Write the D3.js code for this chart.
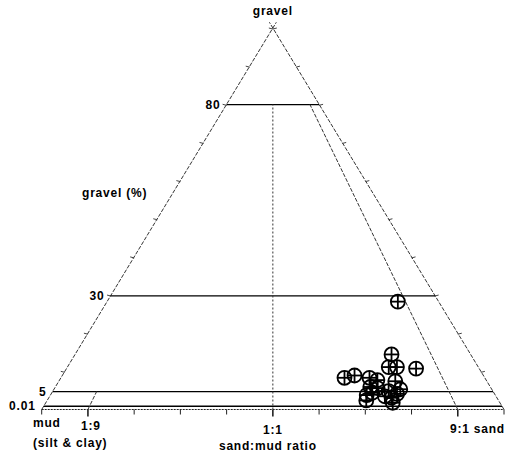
<!DOCTYPE html>
<html>
<head>
<meta charset="utf-8">
<script src="https://cdn.jsdelivr.net/npm/d3@7"></script>
<style>
  html, body { margin: 0; padding: 0; background: #fff; }
  svg text { font-family: "Liberation Sans", Arial, sans-serif; font-weight: bold; font-size: 12px; fill: #000; letter-spacing: 0.8px; }
</style>
</head>
<body>
<svg id="chart" width="507" height="457"></svg>
<script>
// Folk (1954) gravel–sand–mud diagram: gravel % vs sand:mud ratio
// Sample values: gravel percentage and sand fraction of the sand+mud part
const gravelPct = [28.5, 14.7, 11.4, 11.4, 11.0, 8.6, 9.2, 8.6, 6.2, 3.8, 2.0, 5.9, 7.7, 5.6, 5.1, 2.9, 1.2, 3.4, 4.6, 8.0, 4.2];
const sandRatio = [0.877, 0.800, 0.782, 0.802, 0.847, 0.669, 0.694, 0.728, 0.724, 0.711, 0.707, 0.740, 0.786, 0.791, 0.763, 0.765, 0.764, 0.751, 0.725, 0.745, 0.780];

// Class boundaries
const gravelLevels = [80, 30, 5, 0.01];
const gravelLevelLabels = ["80", "30", "5", "0.01"];
const ratioLines = [
  { r: 0.1, label: "1:9", top: 5 },
  { r: 0.5, label: "1:1", top: 80 },
  { r: 0.9, label: "9:1 sand", top: 80 }
];
const sideTicks = d3.range(10, 101, 10);
const baseTicks = d3.range(0, 1.0001, 0.1);

const svg = d3.select("#chart");

// Scales: gravel (vertical, stretched near zero so "trace" is visible),
// base position along the sand:mud axis, and height of the triangle
const gScale = d3.scaleLinear().domain([0, 0.01, 5, 100]).range([0, 0.0085, 0.047, 1]);
const yScale = d3.scaleLinear().domain([0, 1]).range([409.5, 28]);
const xBase = d3.scaleLinear().domain([0, 1]).range([41.7, 504]);
const apexX = (xBase(0) + xBase(1)) / 2;

// Position of a point with gravel g (%) and sand fraction r
function px(g, r) {
  const f = gScale(g);
  return apexX + (xBase(r) - apexX) * (1 - f);
}
function py(g) { return yScale(gScale(g)); }

const line = (x1, y1, x2, y2) => svg.append("line")
  .attr("x1", x1).attr("y1", y1).attr("x2", x2).attr("y2", y2);

// Triangle sides (dashed), crossing slightly past the apex
const apexY = py(100);
line(xBase(0), py(0), apexX + (apexX - xBase(0)) * 0.015, apexY - (py(0) - apexY) * 0.015)
  .attr("stroke", "#333").attr("stroke-width", 1).attr("stroke-dasharray", "4,1.5");
line(xBase(1), py(0), apexX - (xBase(1) - apexX) * 0.015, apexY - (py(0) - apexY) * 0.015)
  .attr("stroke", "#333").attr("stroke-width", 1).attr("stroke-dasharray", "4,1.5");
// Base (dotted)
line(xBase(0), py(0), xBase(1), py(0))
  .attr("stroke", "#222").attr("stroke-width", 1.2).attr("stroke-dasharray", "2,1");

// Ticks along the two sides
sideTicks.forEach(t => {
  const y = yScale(t / 100);
  const xl = px(0, 0) + (apexX - xBase(0)) * (t / 100);
  const xr = xBase(1) - (xBase(1) - apexX) * (t / 100);
  line(xl - 4, y, xl, y + 1).attr("stroke", "#444").attr("stroke-width", 1);
  line(xr, y + 1, xr + 4, y).attr("stroke", "#444").attr("stroke-width", 1);
});

// Ticks along the base
baseTicks.forEach(t => {
  const major = Math.abs(t - 0.1) < 1e-6 || Math.abs(t - 0.5) < 1e-6 || Math.abs(t - 0.9) < 1e-6;
  line(xBase(t), py(0), xBase(t), py(0) + (major ? 7 : 5))
    .attr("stroke", "#222").attr("stroke-width", major ? 1.6 : 1);
});

// Horizontal gravel boundaries
gravelLevels.forEach((g, i) => {
  line(px(g, 0), py(g), px(g, 1), py(g)).attr("stroke", "#000").attr("stroke-width", 1.3);
  svg.append("text")
    .attr("x", px(g, 0) - (g < 1 ? 8 : 6))
    .attr("y", py(g) + 4)
    .attr("text-anchor", "end")
    .text(gravelLevelLabels[i]);
});

// Sand:mud ratio lines radiating from the gravel apex
ratioLines.forEach(d => {
  line(px(0, d.r), py(0), px(d.top, d.r), py(d.top))
    .attr("stroke", "#333").attr("stroke-width", 1)
    .attr("stroke-dasharray", d.r === 0.5 ? "2,2" : "4,1.5");
});

// Sample points: circle with a cross
const pts = svg.append("g");
gravelPct.forEach((g, i) => {
  const x = px(g, sandRatio[i]), y = py(g);
  const m = pts.append("g").attr("transform", `translate(${x},${y})`)
    .attr("stroke", "#000").attr("stroke-width", 1.8).attr("fill", "none");
  m.append("circle").attr("r", 7);
  m.append("line").attr("x1", -7).attr("x2", 7).attr("y1", 0).attr("y2", 0);
  m.append("line").attr("y1", -7).attr("y2", 7).attr("x1", 0).attr("x2", 0);
});

// Axis titles and corner labels
const label = (x, y, t, anchor) => svg.append("text")
  .attr("x", x).attr("y", y).attr("text-anchor", anchor || "middle").text(t);
label(apexX, 15, "gravel");
label(82, 197, "gravel (%)", "start");
label(33, 427, "mud", "start");
label(33, 447, "(silt & clay)", "start");
label(xBase(0.1) + 3, 430, "1:9");
label(xBase(0.5), 434, "1:1");
label(xBase(0.5) - 5, 450, "sand:mud ratio");
label(505, 433, "9:1 sand", "end");
</script>
</body>
</html>
